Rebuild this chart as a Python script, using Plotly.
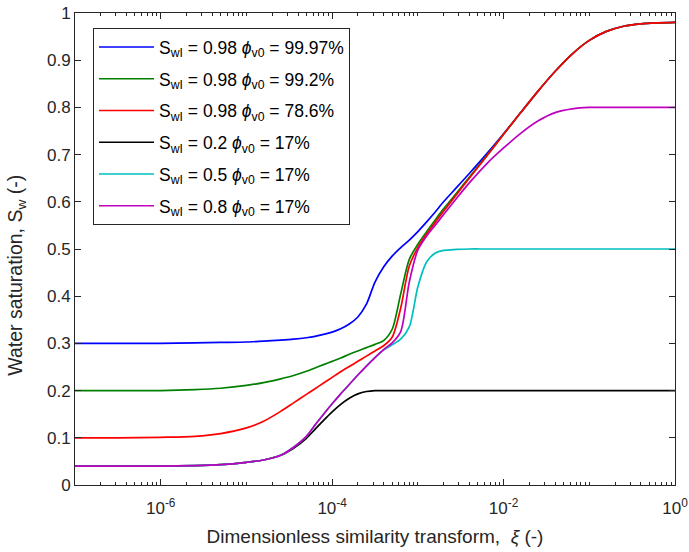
import plotly.graph_objects as go

# log10 of the similarity variable xi at which saturations are tabulated
log_xi = [-7.0, -6.5, -6.0, -5.6, -5.3, -5.0, -4.8, -4.6, -4.45, -4.3, -4.2, -4.1, -4.0,
          -3.9, -3.8, -3.7, -3.6, -3.5, -3.4, -3.3, -3.2, -3.1, -3.0, -2.9, -2.8, -2.7,
          -2.55, -2.4, -2.2, -2.0, -1.8, -1.6, -1.4, -1.2, -1.0, -0.8, -0.6, -0.4, -0.2, 0.0]

sw_blue = [0.300, 0.300, 0.300, 0.301, 0.302, 0.303, 0.305, 0.307, 0.309, 0.312, 0.315, 0.319, 0.324,
           0.331, 0.341, 0.356, 0.383, 0.430, 0.462, 0.485, 0.503, 0.519, 0.537, 0.557, 0.578, 0.600,
           0.630, 0.660, 0.701, 0.744, 0.789, 0.834, 0.876, 0.913, 0.942, 0.961, 0.972, 0.977, 0.979, 0.980]

sw_green = [0.200, 0.200, 0.200, 0.202, 0.205, 0.211, 0.217, 0.225, 0.232, 0.241, 0.248, 0.255, 0.262,
            0.269, 0.277, 0.284, 0.291, 0.298, 0.306, 0.330, 0.405, 0.478, 0.510, 0.536, 0.561, 0.585,
            0.618, 0.652, 0.697, 0.743, 0.789, 0.834, 0.876, 0.913, 0.942, 0.961, 0.972, 0.977, 0.979, 0.980]

sw_red = [0.100, 0.100, 0.101, 0.103, 0.109, 0.121, 0.135, 0.156, 0.174, 0.192, 0.204, 0.216, 0.228,
          0.240, 0.251, 0.262, 0.273, 0.284, 0.295, 0.313, 0.375, 0.464, 0.503, 0.531, 0.556, 0.580,
          0.615, 0.650, 0.696, 0.743, 0.789, 0.834, 0.876, 0.913, 0.942, 0.961, 0.972, 0.977, 0.979, 0.980]

sw_black = [0.040, 0.040, 0.040, 0.041, 0.043, 0.048, 0.053, 0.063, 0.078, 0.099, 0.118, 0.137, 0.155,
            0.171, 0.184, 0.193, 0.198, 0.200, 0.200, 0.200, 0.200, 0.200, 0.200, 0.200, 0.200, 0.200,
            0.200, 0.200, 0.200, 0.200, 0.200, 0.200, 0.200, 0.200, 0.200, 0.200, 0.200, 0.200, 0.200, 0.200]

sw_cyan = [0.040, 0.040, 0.040, 0.041, 0.043, 0.048, 0.053, 0.063, 0.080, 0.103, 0.127, 0.150, 0.172,
           0.193, 0.213, 0.233, 0.252, 0.270, 0.286, 0.297, 0.309, 0.335, 0.420, 0.472, 0.491, 0.497,
           0.499, 0.500, 0.500, 0.500, 0.500, 0.500, 0.500, 0.500, 0.500, 0.500, 0.500, 0.500, 0.500, 0.500]

sw_magenta = [0.040, 0.040, 0.040, 0.041, 0.043, 0.048, 0.053, 0.063, 0.080, 0.103, 0.127, 0.150, 0.172,
              0.193, 0.213, 0.233, 0.252, 0.270, 0.287, 0.301, 0.325, 0.430, 0.498, 0.527, 0.550, 0.573,
              0.607, 0.640, 0.680, 0.714, 0.745, 0.771, 0.789, 0.797, 0.800, 0.800, 0.800, 0.800, 0.800, 0.800]

series_names = [
    "S<sub>wI</sub> = 0.98 <i>ϕ</i><sub>v0</sub> = 99.97%",
    "S<sub>wI</sub> = 0.98 <i>ϕ</i><sub>v0</sub> = 99.2%",
    "S<sub>wI</sub> = 0.98 <i>ϕ</i><sub>v0</sub> = 78.6%",
    "S<sub>wI</sub> = 0.2 <i>ϕ</i><sub>v0</sub> = 17%",
    "S<sub>wI</sub> = 0.5 <i>ϕ</i><sub>v0</sub> = 17%",
    "S<sub>wI</sub> = 0.8 <i>ϕ</i><sub>v0</sub> = 17%",
]
series_values = [sw_blue, sw_green, sw_red, sw_black, sw_cyan, sw_magenta]
series_colors = ["#0000ff", "#008000", "#ff0000", "#000000", "#00bfbf", "#bf00bf"]

# labelled decades on the xi axis; the other decades and 2..9 multiples get minor ticks
x_label_exponents = [-6, -4, -2, 0]
y_tick_values = [0.0, 0.1, 0.2, 0.3, 0.4, 0.5, 0.6, 0.7, 0.8, 0.9, 1.0]
y_tick_labels = ["0", "0.1", "0.2", "0.3", "0.4", "0.5", "0.6", "0.7", "0.8", "0.9", "1"]

xi = [10 ** v for v in log_xi]

fig = go.Figure()
for i, (name, ys, col) in enumerate(zip(series_names, series_values, series_colors)):
    fig.add_trace(go.Scatter(
        x=xi, y=ys, mode="lines", name=name, legendgroup=f"g{i}",
        line=dict(color=col, width=1.7, shape="spline", smoothing=0.8),
    ))

major_vals = [10.0 ** d for d in x_label_exponents]
major_text = [f"10<sup>{d}</sup>" for d in x_label_exponents]
minor_vals = [m * 10.0 ** d for d in range(-7, 0) for m in range(1, 10)
              if not (m == 1 and d in x_label_exponents)]

font_family = "Liberation Sans, Arial, sans-serif"
axis_color = "#262626"

fig.update_layout(
    width=689, height=552,
    margin=dict(l=75, r=14, t=13, b=67),
    paper_bgcolor="white", plot_bgcolor="white",
    font=dict(family=font_family, size=17, color=axis_color),
    showlegend=True,
    legend=dict(
        x=0.03, y=0.968, xanchor="left", yanchor="top",
        bgcolor="white", bordercolor=axis_color, borderwidth=1,
        font=dict(family=font_family, size=17.5, color="#000000"),
        itemwidth=55, tracegroupgap=6,
    ),
    xaxis=dict(
        type="log", range=[-7, 0], automargin=False,
        tickmode="array", tickvals=major_vals, ticktext=major_text,
        ticks="inside", ticklen=6, tickwidth=1, tickcolor=axis_color,
        ticklabelstandoff=8,
        minor=dict(tickvals=minor_vals, ticks="inside", ticklen=3, tickcolor=axis_color),
        showline=True, linecolor=axis_color, linewidth=1, mirror="allticks",
        showgrid=False, zeroline=False,
        tickfont=dict(size=17),
        title=dict(text="Dimensionless similarity transform,  <i>ξ</i> (-)",
                   font=dict(size=19), standoff=12),
    ),
    yaxis=dict(
        range=[0, 1], automargin=False,
        tickmode="array", tickvals=y_tick_values, ticktext=y_tick_labels,
        ticks="inside", ticklen=6, tickwidth=1, tickcolor=axis_color,
        showline=True, linecolor=axis_color, linewidth=1, mirror="allticks",
        showgrid=False, zeroline=False,
        tickfont=dict(size=17),
    ),
    annotations=[dict(
        text="Water saturation, S<sub>w</sub> (-)", textangle=-90,
        xref="paper", yref="paper", x=-0.097, y=0.445,
        xanchor="center", yanchor="middle", showarrow=False,
        font=dict(size=19.5, color=axis_color),
    )],
)

fig.write_html("out.html")
